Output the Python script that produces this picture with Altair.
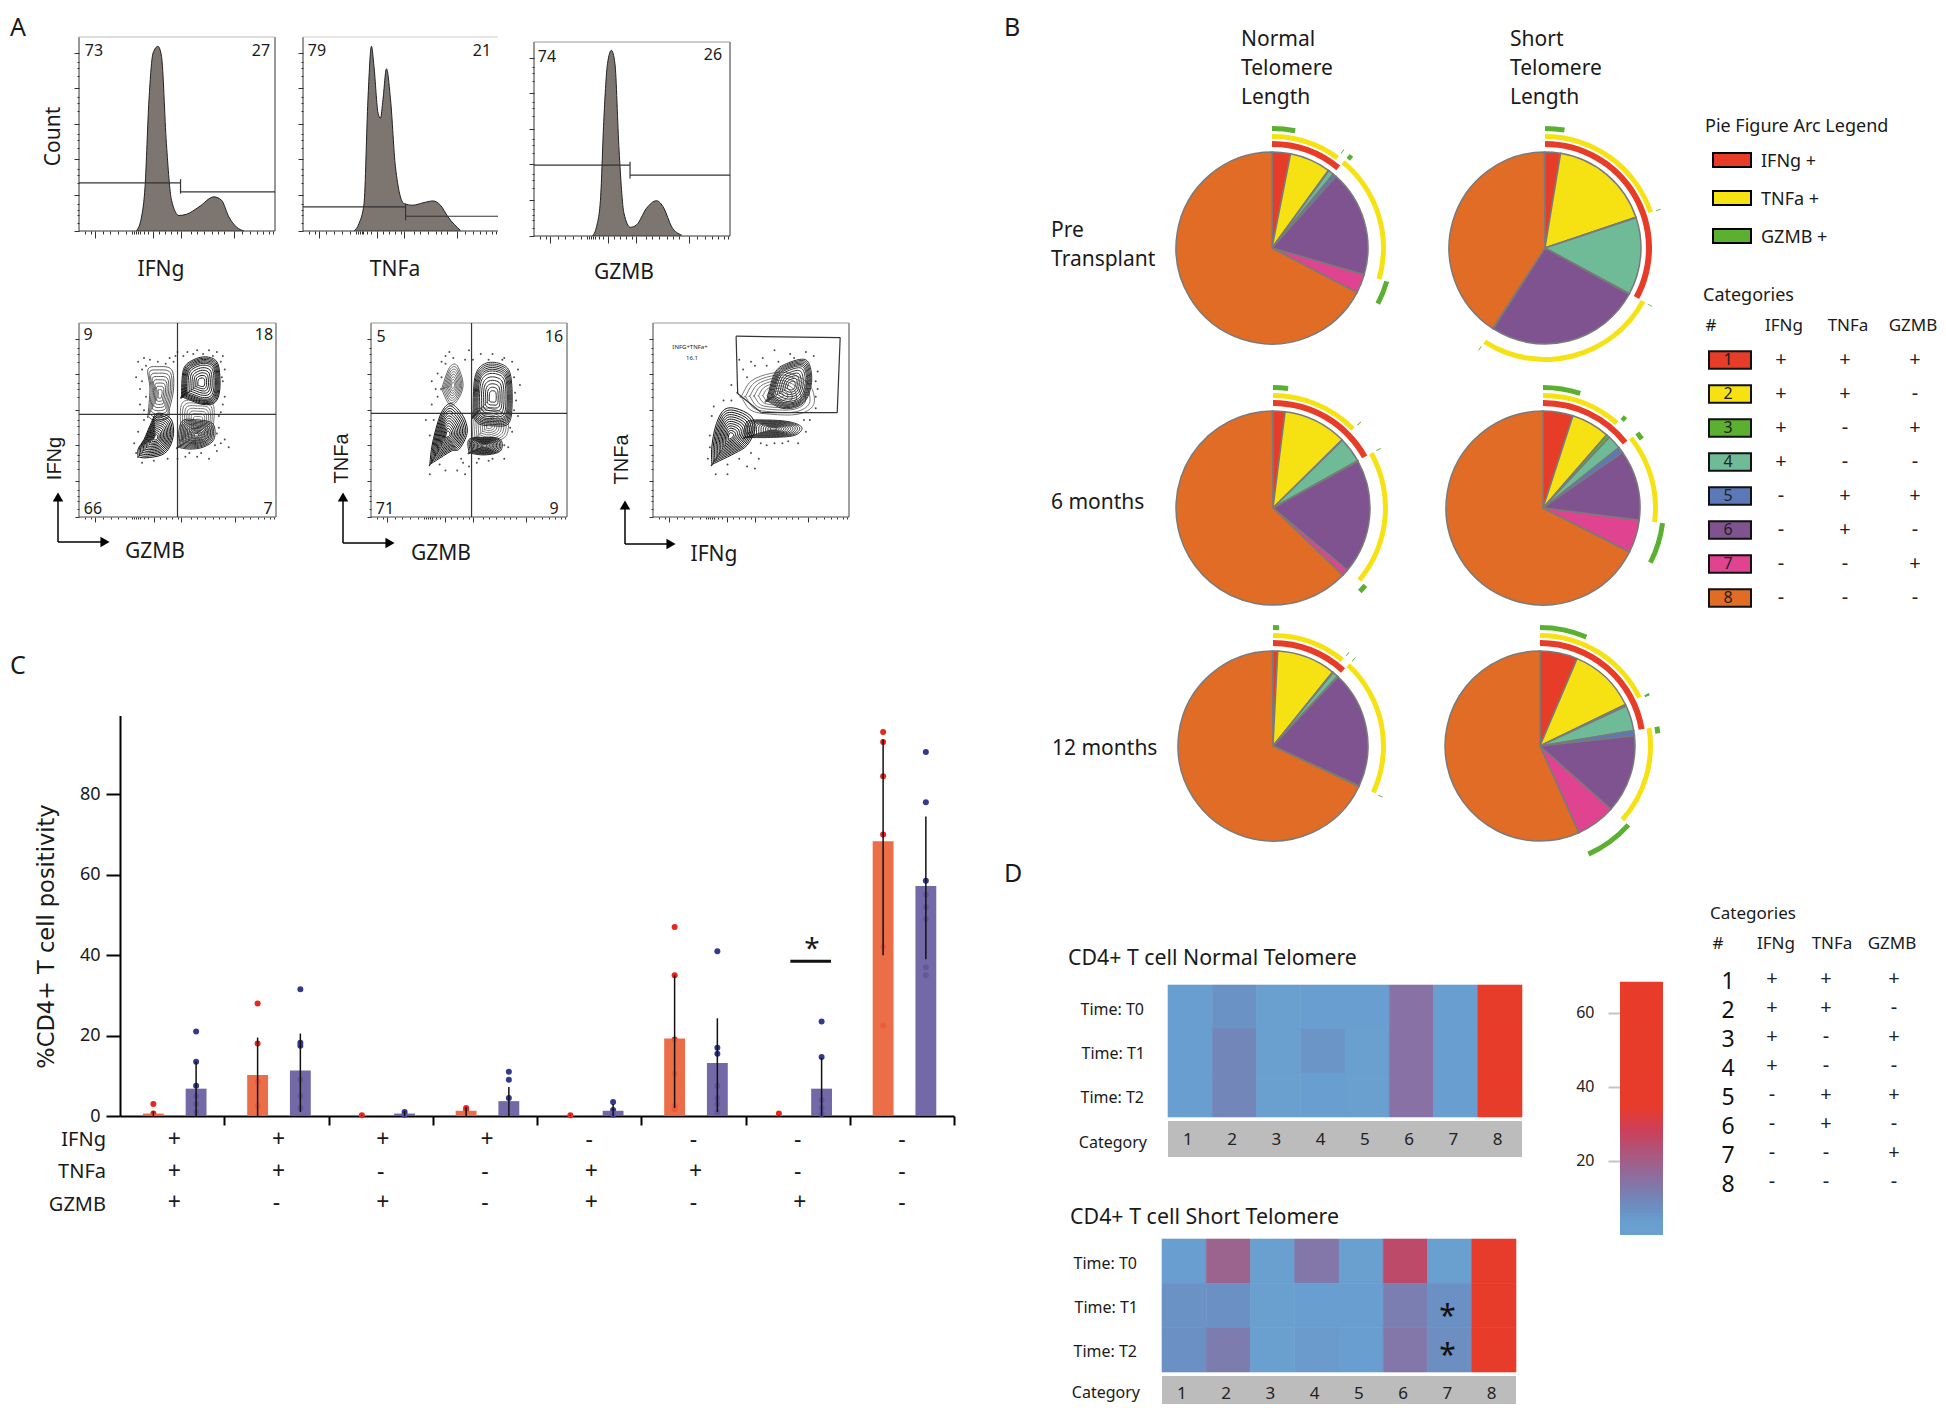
import math
import altair as alt
import pandas as pd

FONT = "Noto Sans"
W, H = 1930, 1396

# ---------- panel A: histograms (% of frame width, % of frame height) ----------
HIST_1 = [(29.3,0),(31.9,7.2),(33.7,22.8),(35.7,67.6),(37.8,91.7),(40.3,95.2),(42.1,90),(44.6,45),(47.2,15.9),(51,8),(54.8,8.6),(61.2,12.4),(68.9,17.6),(72.7,15.9),(76.5,7.2),(80.4,2),(84.2,0)]
HIST_2 = [(26.2,0),(28.7,3.8),(31.3,14.1),(33.3,67.6),(35.1,95.2),(36.4,84.8),(38.5,60.7),(39.7,58.1),(41,67.6),(42.8,83.6),(44.9,67.6),(47.4,33.1),(51.8,14.1),(56.4,13.3),(61.5,14.5),(66.7,15.5),(70.5,13.3),(74.4,7.2),(80.8,0.3)]
HIST_3 = [(29.8,0),(31.9,4.8),(33.9,18.5),(35.7,61.4),(37.5,88.8),(39.5,95.7),(41.3,88.8),(43.4,44.2),(45.9,11.7),(49.2,4.5),(52.3,5.7),(57.4,14.3),(62.5,18.2),(66.3,14.3),(70.2,4.8),(75.3,0.5)]
GATE_1 = (51.8, 24.8, 20.2, 26.7, 19.3)
GATE_2 = (52.6, 12.4, 7.6, 14.1, 5.5)
GATE_3 = (49.0, 36.5, 31.4, 38.3, 29.7)
X_MAJOR = [8, 38, 52, 79]
X_MINOR = [3, 6, 12, 16, 20, 24, 27, 28, 29, 30, 31, 33, 35, 41, 44, 47, 50, 57, 60, 64, 68, 71, 74, 83, 87, 91, 94, 97, 99]
Y_MAJOR = [0, 18.4, 37, 55, 73.6, 92]
Y_MINOR = [4, 8, 11, 14, 25, 29, 32, 43, 47, 50, 62, 66, 69, 80, 84, 87]

# ---------- panel A: contour outlines and outliers (% of frame) ----------
DARK = [1, .92, .84, .76, .68, .6, .52, .44, .36, .28, .2, .12]
RING = [1, .95, .9, .85, .8, .75, .68, .58, .48, .38, .28, .18]
MID = [1, .88, .76, .64, .52, .4, .28, .16]
LOOPS_1 = [
    ([(35,52),(36,66),(35,76),(40,77.5),(47,76),(48,66),(46,56),(45,51),(38,50)], MID, "#5a5a5a"),
    ([(52,40),(52,58),(60,60),(68,58),(68,46),(66,40),(58,38)], MID, "#777777"),
    ([(30,31),(34,30.5),(42,32),(46,36),(48,43),(47,50),(43,53),(39,53),(36,47),(33,40),(30,35)], DARK, "#111111"),
    ([(52,62),(53,76),(58,81),(65,82.5),(70.5,79),(71.5,66),(69,59),(63,58),(57,60)], RING, "#1c1c1c"),
    ([(50,36),(52,49),(60,50),(68,48),(68.5,40),(63,36),(56,35)], DARK, "#333333"),
]
LOOPS_2 = [
    ([(36,66),(40,77),(44,78),(47,68),(44,60),(40,58)], MID, "#666666"),
    ([(52,40),(52,54),(60,56),(69,52),(69,42),(60,38)], MID, "#777777"),
    ([(30,27),(33,29),(41,34),(45,35),(49,43),(48,50),(44,56),(40,58.5),(36,54),(33,45),(31,36)], DARK, "#111111"),
    ([(52,52),(53,72),(58,79),(66,79),(71,74),(72,58),(70,48),(62,47),(55,48)], RING, "#2a2a2a"),
    ([(50,33),(50,40),(58,41),(66,40),(66,34),(58,32)], DARK, "#222222"),
]
LOOPS_3 = [
    ([(45,62),(50,70),(60,74),(70,74),(80,68),(82,58),(74,53),(60,53),(50,55)], MID, "#777777"),
    ([(58,60),(62,74),(68,79),(78,81),(81,72),(79,62),(74,57),(66,56)], RING, "#333333"),
    ([(47,41),(60,41),(72,42),(76,46),(70,49),(58,50),(48,49)], DARK, "#333333"),
    ([(30,27),(34,29),(42,33),(48,37),(52,45),(50,52),(42,56),(36,55),(32,47),(30,36)], DARK, "#111111"),
]
SPECK_1 = [(30,80),(32,76),(29,72),(33,82),(36,81),(40,80),(46,82),(50,85),(55,85),(60,86),(66,86),(70,85),(73,83),(74,76),(73,70),(74,62),(72,54),(71,46),(72,38),(70,34),(74,40),(76,36),(66,30),(60,31),(54,31),(50,30),(34,62),(33,55),(31,58),(30,44),(28,38),(32,70),(34,78),(31,66),(49,83),(53,83),(58,84),(63,84),(68,83),(72,80),(72.5,72),(73,58),(71,52),(70,43),(69,37),(62,33),(56,33),(48,80),(44,79),(33,50),(29,33),(32,28),(38,29),(45,30)]
SPECK_2 = [(40,85),(42,82),(36,80),(34,74),(31,70),(33,66),(38,83),(50,86),(56,84),(62,84),(68,82),(72,80),(75,76),(76,68),(74,60),(75,52),(72,44),(70,36),(68,30),(60,29),(54,28),(50,26),(48,22),(44,24),(38,24),(30,22),(46,30),(31,58),(28,50),(34,62),(36,72),(38,79),(48,81),(52,81),(60,81),(67,81),(73,72),(73.5,64),(73,55),(71,46),(68,37),(62,30),(55,30),(47,28),(35,27),(32,50),(30,42)]
SPECK_3 = [(44,81),(50,80),(56,82),(62,86),(70,84),(78,85),(82,83),(84,75),(84,66),(83,56),(80,50),(78,44),(74,38),(66,38),(58,37),(54,30),(52,25),(48,26),(38,22),(32,22),(28,30),(29,42),(30,52),(36,60),(40,68),(46,76),(52,78),(58,78),(64,80),(72,82),(83,70),(83,62),(77,50),(69,39),(62,38),(55,38),(50,33),(44,30),(38,27),(29,36),(31,57),(40,60),(43,64),(48,72)]
GATE_POLY = [(42.4,93.2),(95.5,92.5),(94,53.8),(55.3,53.8),(43.2,63.7),(42.4,93.2)]

# ---------- panel B: pies, % in category order 1..8 ----------
CATS = [1, 2, 3, 4, 5, 6, 7, 8]
CAT_COLORS = ["#e63c28", "#f6e213", "#5bb030", "#6fbb97", "#5b79b8", "#7f5390", "#e04490", "#e06c25"]
PIE_PRE_N = [3.1, 6.9, 0.1, 0.9, 0.6, 17.9, 3.2, 67.3]
PIE_PRE_S = [2.6, 17.2, 0.1, 13.0, 0.1, 26.1, 0.1, 40.7]
PIE_6M_N = [2.0, 10.6, 0.1, 4.2, 0.1, 19.1, 1.1, 62.7]
PIE_6M_S = [5.0, 6.4, 0.6, 2.3, 1.0, 11.7, 5.5, 67.5]
PIE_12M_N = [0.8, 10.0, 0.1, 1.0, 0.1, 19.9, 0.1, 67.9]
PIE_12M_S = [6.4, 11.4, 0.3, 4.3, 0.9, 13.3, 6.7, 56.7]
IFNG_CATS = [1, 2, 3, 4]
TNFA_CATS = [1, 2, 5, 6]
GZMB_CATS = [1, 3, 5, 7]
SIGN_IFNG = ["+", "+", "+", "+", "-", "-", "-", "-"]
SIGN_TNFA = ["+", "+", "-", "-", "+", "+", "-", "-"]
SIGN_GZMB = ["+", "-", "+", "-", "+", "-", "+", "-"]

# ---------- panel C ----------
BAR_NORMAL = [0.6, 10.2, 0.1, 1.3, 0.1, 19.3, 0.1, 68.3]
BAR_SHORT = [6.8, 11.3, 0.6, 3.7, 1.3, 13.2, 6.8, 57.2]
ERR_NORMAL = [(0, 1.2), (0, 19.5), (0, 0.2), (0, 2.2), (0, 0.2), (2, 35), (0, 0.2), (40, 93.7)]
ERR_SHORT = [(0, 13.5), (1, 20.5), (0, 1.2), (0, 7.2), (0, 3), (1, 24.3), (0, 14.5), (39, 74.5)]
DOT_NORMAL = [[3, 0.6], [28, 18, 8.5, 2.5], [0.2], [2, 1.5], [0.2], [47, 35, 19, 10.5, 2.5, 1.7], [0.6], [95.5, 93, 84.5, 70, 42, 22.5]]
DOT_SHORT = [[21, 13.5, 7.5, 5, 3, 1], [31.5, 18.2, 17.5, 9, 5, 2], [1, 0.3], [11, 9, 4.5], [3.5, 1.5, 0.3], [41, 17, 15.5, 7.5, 4.5, 3, 1], [23.5, 14.7, 4, 2, 0.5], [90.5, 78, 58.5, 55, 52, 49, 37, 35]]
SIG_BAR = (6.43, 6.82, 38.5)

# ---------- panel D ----------
HEAT_NORMAL = [[3, 6, 1.5, 2, 2, 14, 3, 62], [3, 9, 1.5, 5.5, 1.5, 14, 2, 62], [3, 9, 1.5, 2.5, 1.5, 14, 2, 62]]
HEAT_SHORT = [[3, 18, 1, 13, 1.5, 25, 1, 42], [6, 6.5, 1, 3, 2, 11, 6.5, 60], [6.5, 11.5, 1, 4, 2, 13, 7, 60]]
HEAT_STOPS = [0, 3, 7.4, 14.6, 28, 34, 68]
HEAT_COLORS = ["#69a0d0", "#699fd0", "#6c8cc0", "#8a70a2", "#cc3f58", "#e73c2c", "#e83c2a"]
HEAT_TICKS = [20, 40, 60]
RAMP = list(range(0, 68))


def label(t, x, y, size=21, align="left", angle=0, color="#1a1a1a", font=FONT):
    return alt.Chart(pd.DataFrame({"t": [t]})).mark_text(
        align=align, baseline="middle", fontSize=size, angle=angle, color=color, font=font
    ).encode(x=alt.value(x - 8), y=alt.value(y - 6.5), text="t:N")


def qx(lo, hi, domain=(0, 100)):
    return alt.Scale(domain=list(domain), range=[lo - 8, hi - 8], nice=False, zero=False)


def qy(bottom, top, domain=(0, 100)):
    return alt.Scale(domain=list(domain), range=[bottom - 8, top - 8], nice=False, zero=False)


def xaxis(y_px, values, size):
    return alt.Axis(orient="bottom", offset=(y_px - 8) - H, values=values, labels=False, tickSize=size,
                    domain=False, grid=False, title=None, tickColor="#333", tickWidth=1)


def yaxis(x_px, values, size):
    return alt.Axis(orient="left", offset=-(x_px - 8), values=values, labels=False, tickSize=size,
                    domain=False, grid=False, title=None, tickColor="#333", tickWidth=1)


def segs(rows, x, y, color, width):
    df = pd.DataFrame(rows, columns=["a", "b", "a2", "b2"])
    return alt.Chart(df).mark_rule(color=color, strokeWidth=width).encode(
        x=alt.X("a:Q", scale=x, axis=None), y=alt.Y("b:Q", scale=y, axis=None),
        x2="a2:Q", y2="b2:Q")


layers = []

# ---- A: histograms
FRAMES = [
    (HIST_1, GATE_1, 79, 275, 231, 37, "#bbbbbb"),
    (HIST_2, GATE_2, 303, 498, 231, 37, "#cccccc"),
    (HIST_3, GATE_3, 534, 730, 236, 42, "#999999"),
]
for i, (pts, gate, l, r, b, t, topc) in enumerate(FRAMES):
    sx, sy = qx(l, r), qy(b, t)
    df = pd.DataFrame(pts, columns=["x", "y"])
    layers.append(alt.Chart(df).mark_area(color="#7d7570", interpolate="monotone").encode(
        x=alt.X("x:Q", scale=sx, axis=xaxis(b, X_MAJOR, 7)),
        y=alt.Y("y:Q", scale=sy, axis=yaxis(l, Y_MAJOR, 5))))
    layers.append(alt.Chart(df).mark_line(color="#222", strokeWidth=1, interpolate="monotone").encode(
        x=alt.X("x:Q", scale=sx, axis=xaxis(b, X_MINOR, 3)),
        y=alt.Y("y:Q", scale=sy, axis=yaxis(l, Y_MINOR, 2))))
    g, y1, y2, t1, t2 = gate
    frame = [(0, 0, 100, 0), (0, 0, 0, 100)]
    if i != 1:
        frame.append((100, 0, 100, 100))
    layers.append(segs(frame, sx, sy, "#333", 1))
    layers.append(segs([(0, 100, 100, 100)], sx, sy, topc, 1.2))
    layers.append(segs([(0, y1, g, y1), (g, t1, g, t2), (g, y2, 100, y2)], sx, sy, "#333", 1.2))

for t, x, y in [("73", 94, 49), ("27", 261, 49), ("79", 317, 49), ("21", 482, 49), ("74", 547, 55), ("26", 713, 53)]:
    layers.append(label(t, x, y, 16, "center"))
layers.append(label("Count", 54, 135, 21, "center", 270))
for t, x, y in [("IFNg", 161, 268), ("TNFa", 395, 268), ("GZMB", 624, 271)]:
    layers.append(label(t, x, y, 21, "center"))

# ---- A: contour panels
PANELS = [
    (LOOPS_1, SPECK_1, 79, 276, [(50, 0, 50, 100), (0, 52.9, 100, 52.9)]),
    (LOOPS_2, SPECK_2, 371, 567, [(51.3, 0, 51.3, 100), (0, 53.4, 100, 53.4)]),
    (LOOPS_3, SPECK_3, 653, 849, []),
]
for loops, specks, l, r, cross in PANELS:
    sx, sy = qx(l, r), qy(517, 323)
    rows = []
    for j, (outline, factors, col) in enumerate(loops):
        cx0 = sum(p[0] for p in outline) / len(outline)
        cy0 = sum(p[1] for p in outline) / len(outline)
        for k, f in enumerate(factors):
            closed = outline + outline[:1]
            for n, (px, py) in enumerate(closed):
                rows.append({"x": cx0 + (px - cx0) * f, "y": cy0 + (py - cy0) * f, "id": f"{j}-{k}", "n": n, "c": col})
    layers.append(alt.Chart(pd.DataFrame(rows)).mark_line(strokeWidth=1, interpolate="cardinal-closed").encode(
        x=alt.X("x:Q", scale=sx, axis=xaxis(517, X_MAJOR, 5)),
        y=alt.Y("y:Q", scale=sy, axis=yaxis(l, Y_MAJOR, 4)),
        color=alt.Color("c:N", scale=None), detail="id:N", order="n:Q"))
    layers.append(alt.Chart(pd.DataFrame(specks, columns=["x", "y"])).mark_point(
        filled=True, size=4, color="#222", opacity=0.8).encode(
        x=alt.X("x:Q", scale=sx, axis=xaxis(517, X_MINOR, 2)),
        y=alt.Y("y:Q", scale=sy, axis=yaxis(l, Y_MINOR, 2))))
    frame = [(0, 0, 100, 0), (0, 0, 0, 100), (100, 0, 100, 100)]
    layers.append(segs(frame, sx, sy, "#444", 1))
    layers.append(segs([(0, 100, 100, 100)], sx, sy, "#999", 1.2))
    if cross:
        layers.append(segs(cross, sx, sy, "#333", 1.2))
    else:
        pairs = [GATE_POLY[i] + GATE_POLY[i + 1] for i in range(len(GATE_POLY) - 1)]
        layers.append(segs(pairs, sx, sy, "#333", 1.2))

for t, x, y in [("9", 88, 333), ("18", 264, 333), ("66", 93, 507), ("7", 268, 507),
                ("5", 381, 335), ("16", 554, 335), ("71", 385, 507), ("9", 554, 507)]:
    layers.append(label(t, x, y, 16, "center"))
layers.append(label("INFG+TNFa+", 690, 345, 6, "center"))
layers.append(label("16.1", 692, 356, 6, "center"))
for t, x, y in [("IFNg", 55, 457), ("TNFa", 342, 457), ("TNFa", 622, 458)]:
    layers.append(label(t, x, y, 20, "center", 270, font="Liberation Sans"))
for t, x, y in [("GZMB", 155, 550), ("GZMB", 441, 552), ("IFNg", 714, 553)]:
    layers.append(label(t, x, y, 21, "center"))
one = alt.Chart(pd.DataFrame({"k": [0]}))
for ax, ay, top, right in [(58, 542, 497, 105), (343, 543, 497, 390), (625, 544, 505, 671)]:
    layers.append(one.mark_rule(color="black", strokeWidth=1.5).encode(
        x=alt.value(ax - 8), y=alt.value(ay - 8), y2=alt.value(top - 8)))
    layers.append(one.mark_rule(color="black", strokeWidth=1.5).encode(
        x=alt.value(ax - 8), x2=alt.value(right - 8), y=alt.value(ay - 8)))
    layers.append(one.mark_point(shape="triangle-up", filled=True, color="black", size=110, opacity=1).encode(
        x=alt.value(ax - 8), y=alt.value(top - 8)))
    layers.append(one.mark_point(shape="triangle-right", filled=True, color="black", size=110, opacity=1).encode(
        x=alt.value(right - 8), y=alt.value(ay - 8)))

# ---- B: pies
PIES = [
    (PIE_PRE_N, 1272, 248, 96), (PIE_PRE_S, 1545, 248, 96),
    (PIE_6M_N, 1273, 508, 97), (PIE_6M_S, 1543, 508, 97),
    (PIE_12M_N, 1273, 746, 95), (PIE_12M_S, 1540, 746, 95),
]
THETA = alt.Scale(domain=[0, 100], range=[0, 2 * math.pi])
RINGS = [(IFNG_CATS, "#e63c28", 5, 11), (TNFA_CATS, "#f6e213", 13, 18), (GZMB_CATS, "#5bb030", 21, 26)]
for vals, cx, cy, rad in PIES:
    starts, ends, acc = [], [], 0.0
    for v in vals:
        starts.append(acc)
        acc += v
        ends.append(acc)
    df = pd.DataFrame({"cat": CATS, "start": starts, "end": ends})
    layers.append(alt.Chart(df).mark_arc(radius=rad, stroke="#7a7a7a", strokeWidth=1.5).encode(
        x=alt.value(cx - 8), y=alt.value(cy - 8),
        theta=alt.Theta("start:Q", scale=THETA), theta2="end:Q",
        color=alt.Color("cat:N", scale=alt.Scale(domain=CATS, range=CAT_COLORS), legend=None)))
    for members, col, r0, r1 in RINGS:
        spans = []
        for c in members:
            s, e = starts[c - 1], ends[c - 1]
            if spans and abs(spans[-1][1] - s) < 1e-9:
                spans[-1][1] = e
            else:
                spans.append([s, e])
        layers.append(alt.Chart(pd.DataFrame(spans, columns=["start", "end"])).mark_arc(
            radius=rad + r1, radius2=rad + r0, color=col).encode(
            x=alt.value(cx - 8), y=alt.value(cy - 8),
            theta=alt.Theta("start:Q", scale=THETA), theta2="end:Q"))

for t, x, y in [("Normal", 1241, 38), ("Telomere", 1241, 67), ("Length", 1241, 96),
                ("Short", 1510, 38), ("Telomere", 1510, 67), ("Length", 1510, 96),
                ("Pre", 1051, 229), ("Transplant", 1051, 258), ("6 months", 1051, 501), ("12 months", 1052, 747)]:
    layers.append(label(t, x, y, 21))

# ---- B: legends
layers.append(label("Pie Figure Arc Legend", 1705, 125, 18))
for t, c, y in [("IFNg +", "#e63c28", 160), ("TNFa +", "#f6e213", 198), ("GZMB +", "#5bb030", 236)]:
    layers.append(one.mark_rect(fill=c, stroke="black", strokeWidth=2).encode(
        x=alt.value(1713 - 8), x2=alt.value(1751 - 8), y=alt.value(y - 7 - 8), y2=alt.value(y + 7 - 8)))
    layers.append(label(t, 1761, y, 18))
layers.append(label("Categories", 1703, 294, 18))
for t, x in [("#", 1711), ("IFNg", 1784), ("TNFa", 1848), ("GZMB", 1913)]:
    layers.append(label(t, x, 324, 17, "center"))
leg_y = qy(598, 360, (8, 1))
leg_x = alt.Scale(domain=[1, 2, 3], range=[1781 - 8, 1845 - 8, 1915 - 8])
sw = pd.DataFrame({"cat": CATS, "lo": [c - 0.26 for c in CATS], "hi": [c + 0.26 for c in CATS], "t": [str(c) for c in CATS]})
layers.append(alt.Chart(sw).mark_rect(stroke="#111", strokeWidth=2).encode(
    x=alt.value(1709 - 8), x2=alt.value(1751 - 8),
    y=alt.Y("lo:Q", scale=leg_y, axis=None), y2="hi:Q",
    color=alt.Color("cat:N", scale=alt.Scale(domain=CATS, range=CAT_COLORS), legend=None)))
layers.append(alt.Chart(sw).mark_text(fontSize=16, font=FONT, color="#222").encode(
    x=alt.value(1728 - 8), y=alt.Y("cat:Q", scale=leg_y, axis=None), text="t:N"))
tbl = []
for c, a, b, d in zip(CATS, SIGN_IFNG, SIGN_TNFA, SIGN_GZMB):
    tbl += [{"cat": c, "col": 1, "t": a}, {"cat": c, "col": 2, "t": b}, {"cat": c, "col": 3, "t": d}]
layers.append(alt.Chart(pd.DataFrame(tbl)).mark_text(fontSize=20, font=FONT, color="#222").encode(
    x=alt.X("col:Q", scale=leg_x, axis=None), y=alt.Y("cat:Q", scale=leg_y, axis=None), text="t:N"))

# ---- C: bars
bx = qx(120, 954, (0, 8))
by = qy(1116, 715.5, (0, 99.6))
OFF = {"Normal": 0.32, "Short": 0.73}
BAR_COL = alt.Scale(domain=["Normal", "Short"], range=["#ea6238", "#665c9e"])
DOT_COL = alt.Scale(domain=["Normal", "Short"], range=["#e8261f", "#333a8e"])
bars, errs, dots = [], [], []
for g in range(8):
    for name, b, e, d in [("Normal", BAR_NORMAL, ERR_NORMAL, DOT_NORMAL), ("Short", BAR_SHORT, ERR_SHORT, DOT_SHORT)]:
        c = g + OFF[name]
        bars.append({"s": name, "l": c - 0.1, "r": c + 0.1, "v": b[g]})
        errs.append({"x": c, "lo": e[g][0], "hi": e[g][1]})
        dots += [{"s": name, "x": c, "v": v} for v in d[g]]
layers.append(alt.Chart(pd.DataFrame(dots)).mark_point(filled=True, size=36, opacity=1).encode(
    x=alt.X("x:Q", scale=bx, axis=None), y=alt.Y("v:Q", scale=by, axis=None),
    color=alt.Color("s:N", scale=DOT_COL, legend=None)))
layers.append(alt.Chart(pd.DataFrame(bars)).mark_rect(opacity=0.92).encode(
    x=alt.X("l:Q", scale=bx, axis=alt.Axis(orient="bottom", offset=(1116 - 8) - H, values=list(range(1, 9)),
                                          labels=False, tickSize=9, tickWidth=2, tickColor="black",
                                          domainColor="black", domainWidth=2, grid=False, title=None)),
    x2="r:Q",
    y=alt.Y("v:Q", scale=by, axis=alt.Axis(orient="left", offset=-(120 - 8), values=[0, 20, 40, 60, 80],
                                          labelFontSize=18, labelFont=FONT, labelColor="#1a1a1a", labelPadding=6,
                                          tickSize=14, tickWidth=2, tickColor="black",
                                          domainColor="black", domainWidth=2, grid=False, title=None)),
    y2=alt.datum(0),
    color=alt.Color("s:N", scale=BAR_COL, legend=None)))
layers.append(alt.Chart(pd.DataFrame(errs)).mark_rule(color="#111", strokeWidth=1.5).encode(
    x=alt.X("x:Q", scale=bx, axis=None), y=alt.Y("lo:Q", scale=by, axis=None), y2="hi:Q"))
dfsig = pd.DataFrame([{"a": SIG_BAR[0], "b": SIG_BAR[1], "v": SIG_BAR[2]}])
layers.append(alt.Chart(dfsig).mark_rule(color="#111", strokeWidth=3).encode(
    x=alt.X("a:Q", scale=bx, axis=None), x2="b:Q", y=alt.Y("v:Q", scale=by, axis=None)))
layers.append(label("*", 812, 948, 28, "center"))
layers.append(label("%CD4+ T cell positivity", 47, 935, 22.5, "center", 270, font="DejaVu Sans"))
ROW_NAMES = ["IFNg", "TNFa", "GZMB"]
row_scale = alt.Scale(domain=ROW_NAMES, range=[1140 - 8, 1203 - 8], padding=0)
sign_rows = []
for g in range(8):
    for rn, sg in zip(ROW_NAMES, [SIGN_IFNG, SIGN_TNFA, SIGN_GZMB]):
        sign_rows.append({"x": g + (0.52 if sg[g] == "+" else 0.5), "row": rn, "t": sg[g]})
layers.append(alt.Chart(pd.DataFrame(sign_rows)).mark_text(fontSize=23, font=FONT, color="#1a1a1a").encode(
    x=alt.X("x:Q", scale=bx, axis=None),
    y=alt.Y("row:N", scale=row_scale, axis=None), text="t:N"))
for t, y in zip(ROW_NAMES, [1138, 1170, 1203]):
    layers.append(label(t, 106, y, 20, "right"))

# ---- D: heatmaps
HEAT_SCALE = alt.Scale(domain=HEAT_STOPS, range=HEAT_COLORS, interpolate="rgb")
for matrix, l, r, b, t, gb, gt, gt_y in [
    (HEAT_NORMAL, 1168, 1522, 1117, 985, 1157, 1121, 1140),
    (HEAT_SHORT, 1162, 1516, 1372, 1239, 1404, 1376, 1394),
]:
    hx, hy = qx(l, r, (0, 8)), qy(b, t, (3, 0))
    cells = [{"x0": c, "x1": c + 1, "y0": rw, "y1": rw + 1, "v": matrix[rw][c]} for rw in range(3) for c in range(8)]
    layers.append(alt.Chart(pd.DataFrame(cells)).mark_rect(strokeWidth=0.6).encode(
        x=alt.X("x0:Q", scale=hx, axis=None), x2="x1:Q",
        y=alt.Y("y0:Q", scale=hy, axis=None), y2="y1:Q",
        color=alt.Color("v:Q", scale=HEAT_SCALE, legend=None),
        stroke=alt.Stroke("v:Q", scale=HEAT_SCALE, legend=None)))
    layers.append(one.mark_rect(color="#bcbcbc").encode(
        x=alt.value(l - 8), x2=alt.value(r - 8), y=alt.value(gt - 8), y2=alt.value(gb - 8)))
    nums = pd.DataFrame({"x": [c - 0.55 for c in CATS], "t": [str(c) for c in CATS]})
    layers.append(alt.Chart(nums).mark_text(fontSize=17, font=FONT, color="#222").encode(
        x=alt.X("x:Q", scale=hx, axis=None), y=alt.value(gt_y - 8), text="t:N"))

stars = pd.DataFrame({"x": [6.45, 6.45], "y": [1.62, 2.5], "t": ["*", "*"]})
layers.append(alt.Chart(stars).mark_text(fontSize=30, font=FONT, color="#111", dy=6).encode(
    x=alt.X("x:Q", scale=qx(1162, 1516, (0, 8)), axis=None),
    y=alt.Y("y:Q", scale=qy(1372, 1239, (3, 0)), axis=None), text="t:N"))

layers.append(label("CD4+ T cell Normal Telomere", 1068, 957, 21.3))
layers.append(label("CD4+ T cell Short Telomere", 1070, 1216, 21.4))
for t, x, y in [("Time: T0", 1144, 1008), ("Time: T1", 1145, 1052), ("Time: T2", 1144, 1096), ("Category", 1147, 1141),
                ("Time: T0", 1137, 1262), ("Time: T1", 1138, 1306), ("Time: T2", 1137, 1350), ("Category", 1140, 1391)]:
    layers.append(label(t, x, y, 16, "right"))

ramp = pd.DataFrame({"v": RAMP, "v2": [v + 1.4 for v in RAMP]})
layers.append(alt.Chart(ramp).mark_rect().encode(
    x=alt.value(1620 - 8), x2=alt.value(1663 - 8),
    y=alt.Y("v:Q", scale=qy(1235, 985, (0, 67.5)),
            axis=alt.Axis(orient="left", offset=-(1620 - 8), values=HEAT_TICKS, tickSize=12, tickWidth=2,
                          tickColor="#c4c4c4", domain=False, grid=False, title=None,
                          labelFontSize=16, labelFont=FONT, labelColor="#222", labelPadding=14)),
    y2="v2:Q",
    color=alt.Color("v:Q", scale=HEAT_SCALE, legend=None)))

layers.append(label("Categories", 1710, 912, 17))
for t, x in [("#", 1718), ("IFNg", 1776), ("TNFa", 1832), ("GZMB", 1892)]:
    layers.append(label(t, x, 942, 17, "center"))
t2_y = qy(1185, 982, (8, 1))
t2_x = alt.Scale(domain=[1, 2, 3], range=[1772 - 8, 1826 - 8, 1894 - 8])
layers.append(alt.Chart(sw).mark_text(fontSize=23, font=FONT, color="#111").encode(
    x=alt.value(1728 - 8), y=alt.Y("cat:Q", scale=t2_y, axis=None), text="t:N"))
layers.append(alt.Chart(pd.DataFrame(tbl)).mark_text(fontSize=20, font=FONT, color="#222", dy=-3).encode(
    x=alt.X("col:Q", scale=t2_x, axis=None), y=alt.Y("cat:Q", scale=t2_y, axis=None), text="t:N"))

# ---- panel letters
for t, x, y in [("A", 18, 26), ("B", 1012, 26), ("C", 18, 664), ("D", 1013, 872)]:
    layers.append(label(t, x, y, 25, "center"))

chart = alt.layer(*layers).resolve_scale(
    x="independent", y="independent", color="independent", theta="independent"
).properties(
    width=W, height=H, padding=0, autosize=alt.AutoSizeParams(type="none"), background="white"
).configure_view(stroke=None)

chart.save("out.html", embed_options={"renderer": "svg", "actions": False})
